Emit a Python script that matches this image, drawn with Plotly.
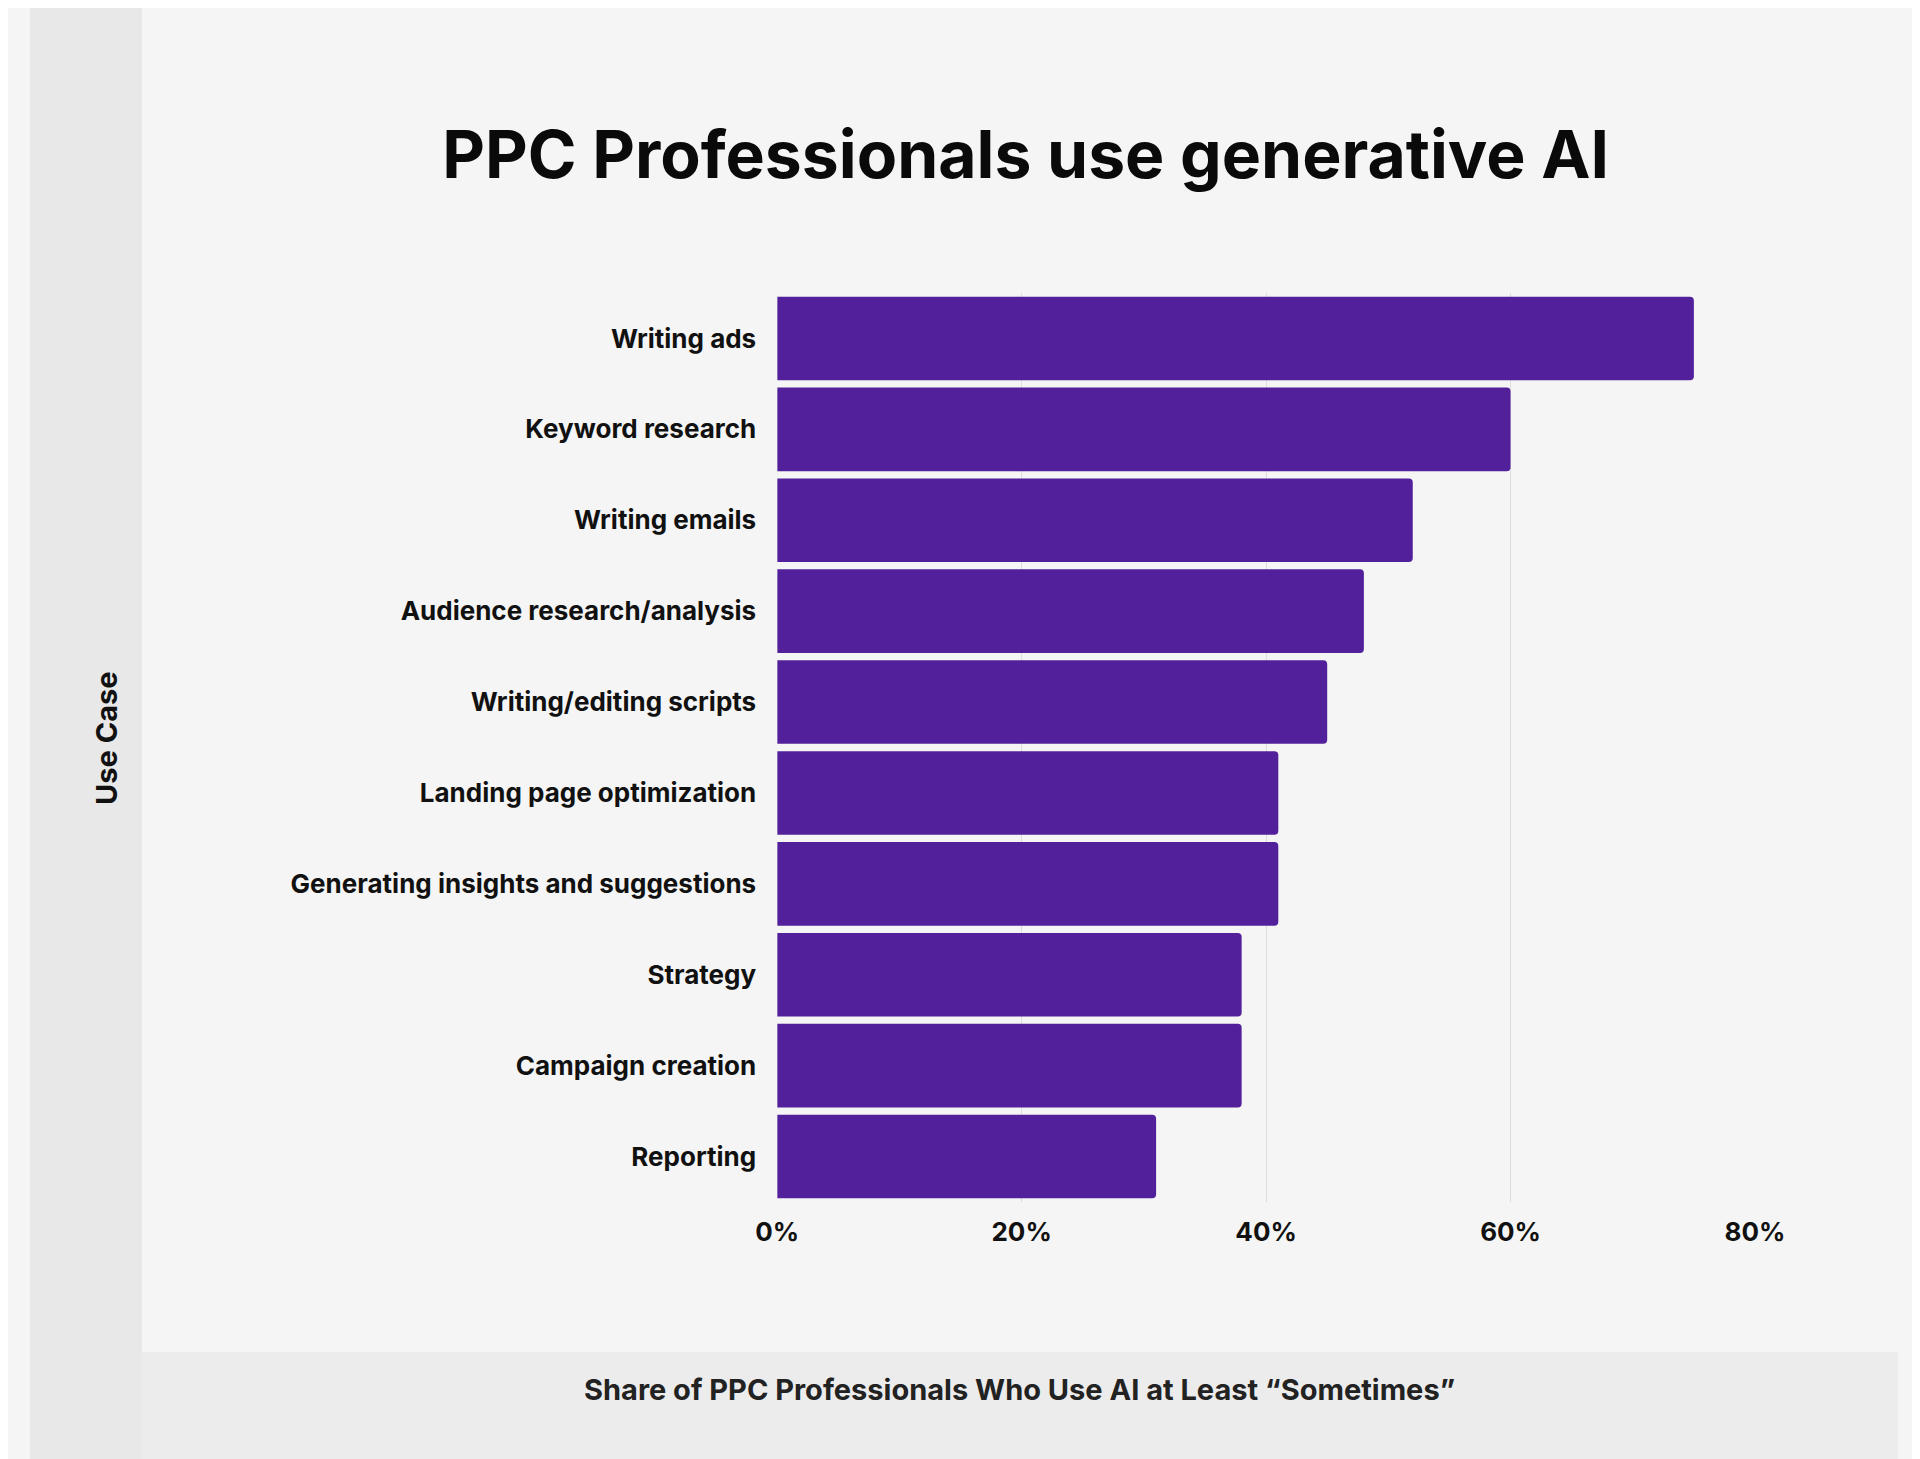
import plotly.graph_objects as go

categories = ["Writing ads", "Keyword research", "Writing emails", "Audience research/analysis",
              "Writing/editing scripts", "Landing page optimization", "Generating insights and suggestions",
              "Strategy", "Campaign creation", "Reporting"]
values = [75, 60, 52, 48, 45, 41, 41, 38, 38, 31]
tick_vals = [0, 20, 40, 60, 80]
tick_text = ["0%", "20%", "40%", "60%", "80%"]

W, H = 1920, 1459
fig = go.Figure(go.Bar(x=values, y=categories, orientation="h", marker_color="#52209a",
                       marker_line_width=0))
fig.update_layout(
    width=W, height=H, margin=dict(l=0, r=0, t=0, b=0),
    paper_bgcolor="#f5f5f5", plot_bgcolor="#f5f5f5", bargap=0.08, barcornerradius=4,
    font=dict(family="Inter", color="#111"), showlegend=False,
    title=dict(text="<b>PPC Professionals use generative AI</b>", x=0.53, xanchor="center",
               y=1 - 147 / H, yanchor="middle", font=dict(size=66, color="#0a0a0a")),
    xaxis=dict(domain=[768 / W, 1773 / W], range=[0, 80], tickvals=tick_vals, ticktext=tick_text,
               showgrid=True, gridcolor="#dddddd", zeroline=False, ticks="", ticklabelstandoff=12,
               tickfont=dict(size=26, family="Inter", weight="bold", color="#111")),
    yaxis=dict(domain=[1 - 1194 / H, 1 - 285 / H], autorange="reversed", showgrid=False,
               ticks="", ticklabelstandoff=20,
               tickfont=dict(size=26, family="Inter", weight="bold", color="#111")),
    shapes=[
        dict(type="rect", xref="paper", yref="paper", x0=0, x1=115 / W, y0=0, y1=1,
             fillcolor="#e8e8e8", line_width=0, layer="below"),
        dict(type="rect", xref="paper", yref="paper", x0=115 / W, x1=1, y0=0, y1=1 - 1344 / H,
             fillcolor="#ececec", line_width=0, layer="below"),
    ],
    annotations=[
        dict(text="<b>Use Case</b>", textangle=-90, xref="paper", yref="paper", x=58 / W,
             y=1 - 730 / H, showarrow=False, font=dict(size=29, color="#111")),
        dict(text="<b>Share of PPC Professionals Who Use AI at Least “Sometimes”</b>", xref="paper",
             yref="paper", x=1017 / W, y=1 - 1401 / H, showarrow=False,
             font=dict(size=29, color="#222")),
    ],
)
fig.write_html("out.html")
